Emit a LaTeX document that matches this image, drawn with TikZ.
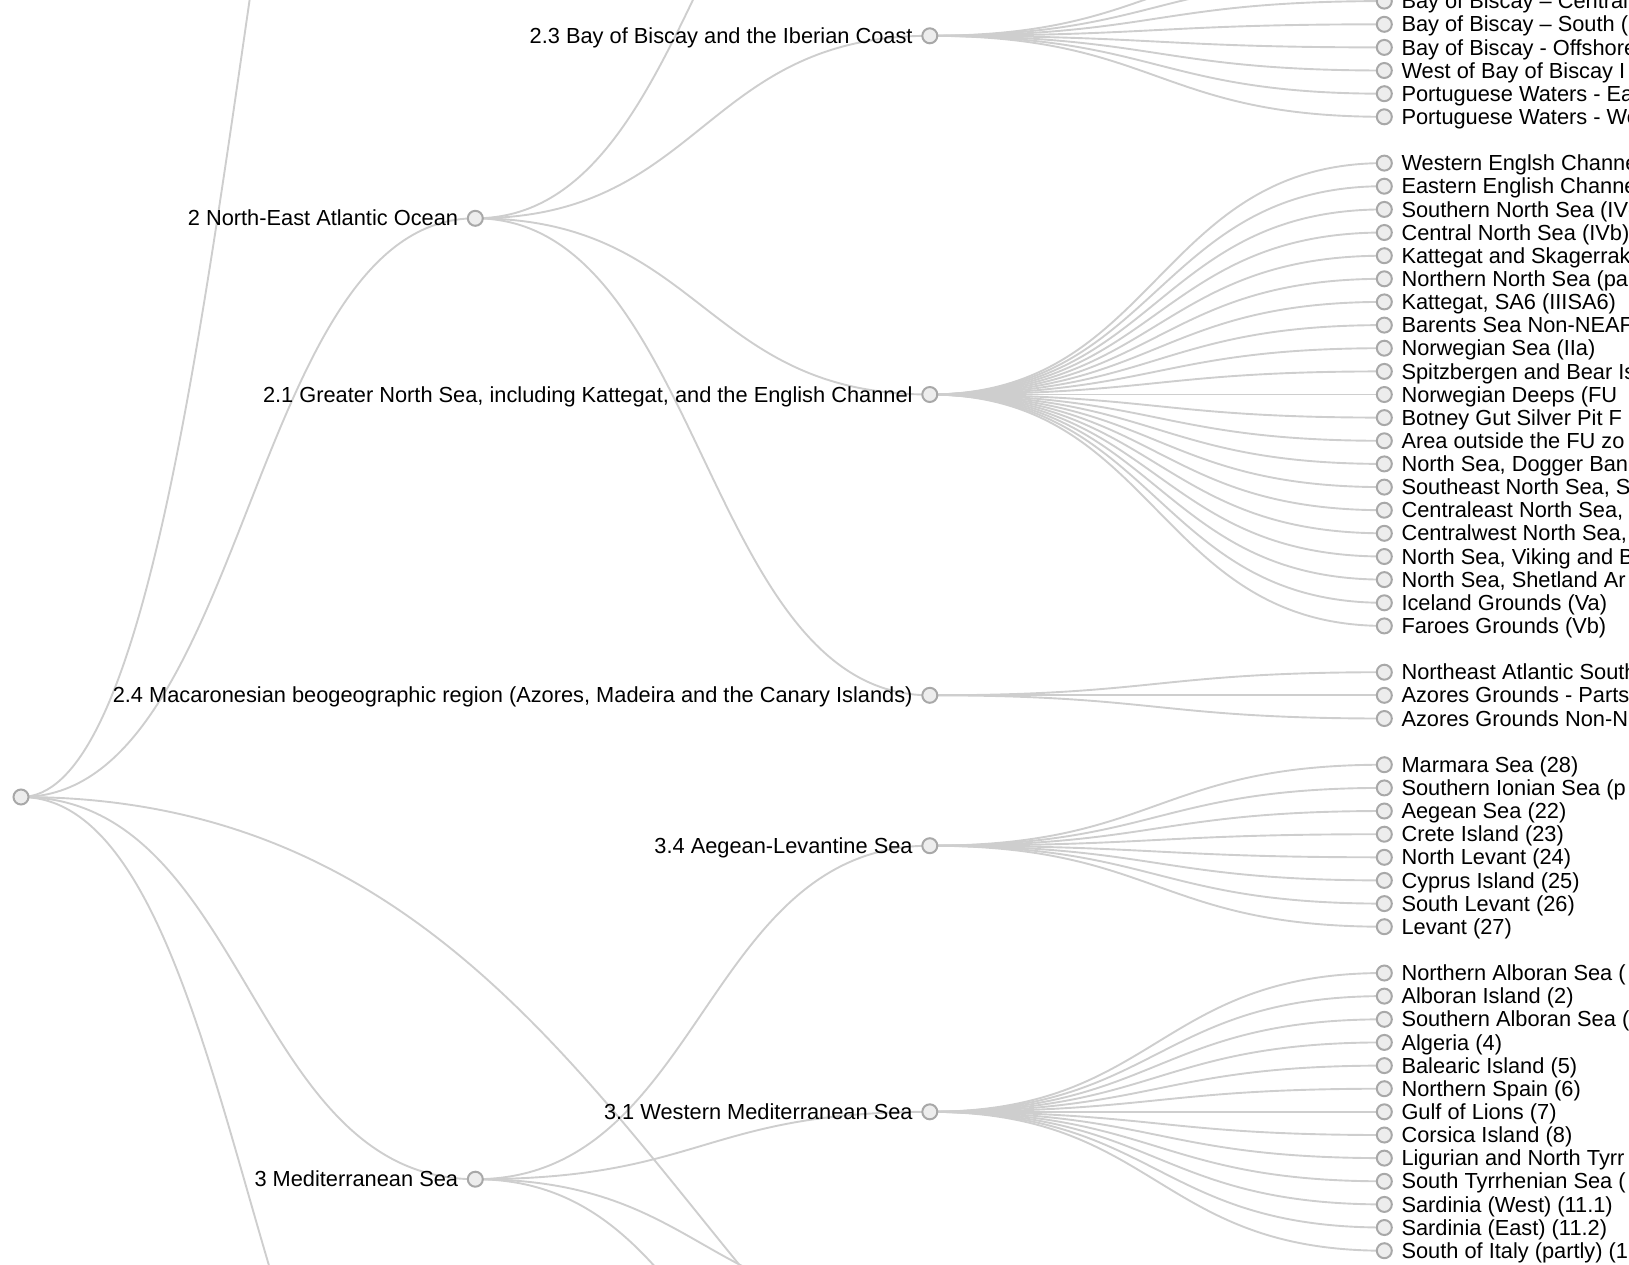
\documentclass[tikz,border=0pt]{standalone}
\usepackage{fontspec}
\setmainfont{Liberation Sans}
\usetikzlibrary{positioning,backgrounds}
\definecolor{linkgray}{RGB}{206,206,206}
\definecolor{dotline}{RGB}{168,168,168}
\definecolor{dotfill}{RGB}{237,237,237}
\begin{document}
\begin{tikzpicture}[x=1pt,y=-1pt,
  dot/.style={shape=circle,draw=dotline,fill=dotfill,line width=2pt,minimum size=15pt,inner sep=0pt,outer sep=0pt},
  lbl/.style={font=\fontsize{21.8}{24}\selectfont,inner sep=0pt,text height=17.4pt,text depth=2.2pt},
  link/.style={draw=linkgray,line width=1.9pt}]
\useasboundingbox (0,0) rectangle (1629,1264);
\clip (0,0) rectangle (1629,1264);

% halfway columns for the curves
\coordinate (m01) at (248.15,0);
\coordinate (m12) at (702.55,0);
\coordinate (m23) at (1157.05,0);
\coordinate (m03) at (702.65,0);

% root and first level
\node[dot](r) at (21,797) {};
\coordinate (n1) at (475.3,-777);
\node[dot](n2) at (475.3,218.3) {};
\node[lbl,left=9.5pt of n2](t2) {2 North-East Atlantic Ocean};
\node[dot](n3) at (475.3,1179.2) {};
\node[lbl,left=9.5pt of n3](t3) {3 Mediterranean Sea};
\coordinate (n4) at (475.3,1590);
\coordinate (nx) at (1384.3,1642);

% second level
\coordinate (n22) at (929.8,-258.7);
\node[dot](n23) at (929.8,35.8) {};
\node[lbl,left=9.5pt of n23](t23) {2.3 Bay of Biscay and the Iberian Coast};
\node[dot](n21) at (929.8,394.5) {};
\node[lbl,left=9.5pt of n21](t21) {2.1 Greater North Sea, including Kattegat, and the English Channel};
\node[dot](n24) at (929.8,695.3) {};
\node[lbl,left=9.5pt of n24](t24) {2.4 Macaronesian beogeographic region (Azores, Madeira and the Canary Islands)};
\node[dot](n34) at (929.8,845.7) {};
\node[lbl,left=9.5pt of n34](t34) {3.4 Aegean-Levantine Sea};
\node[dot](n31) at (929.8,1111.8) {};
\node[lbl,left=9.5pt of n31](t31) {3.1 Western Mediterranean Sea};
\coordinate (n32) at (929.8,1309);
\coordinate (n33) at (929.8,1470);

% leaves of 2.3
\coordinate (l23a) at (1384.3,-45.2);
\coordinate (l23b) at (1384.3,-22.0);
\node[dot](l23c) at (1384.3,1.1) {}; \node[lbl,right=9.5pt of l23c](t23c) {Bay of Biscay – Central};
\node[dot](l23d) at (1384.3,24.3) {}; \node[lbl,right=9.5pt of l23d](t23d) {Bay of Biscay – South (};
\node[dot](l23e) at (1384.3,47.4) {}; \node[lbl,right=9.5pt of l23e](t23e) {Bay of Biscay - Offshore};
\node[dot](l23f) at (1384.3,70.5) {}; \node[lbl,right=9.5pt of l23f](t23f) {West of Bay of Biscay I};
\node[dot](l23g) at (1384.3,93.7) {}; \node[lbl,right=9.5pt of l23g](t23g) {Portuguese Waters - Ea};
\node[dot](l23h) at (1384.3,116.8) {}; \node[lbl,right=9.5pt of l23h](t23h) {Portuguese Waters - We};

% leaves of 2.1
\node[dot](l21a) at (1384.3,163.1) {}; \node[lbl,right=9.5pt of l21a](t21a) {Western Englsh Channe};
\node[dot](l21b) at (1384.3,186.2) {}; \node[lbl,right=9.5pt of l21b](t21b) {Eastern English Channe};
\node[dot](l21c) at (1384.3,209.4) {}; \node[lbl,right=9.5pt of l21c](t21c) {Southern North Sea (IVc};
\node[dot](l21d) at (1384.3,232.5) {}; \node[lbl,right=9.5pt of l21d](t21d) {Central North Sea (IVb)};
\node[dot](l21e) at (1384.3,255.7) {}; \node[lbl,right=9.5pt of l21e](t21e) {Kattegat and Skagerrak};
\node[dot](l21f) at (1384.3,278.8) {}; \node[lbl,right=9.5pt of l21f](t21f) {Northern North Sea (par};
\node[dot](l21g) at (1384.3,301.9) {}; \node[lbl,right=9.5pt of l21g](t21g) {Kattegat, SA6 (IIISA6)};
\node[dot](l21h) at (1384.3,325.1) {}; \node[lbl,right=9.5pt of l21h](t21h) {Barents Sea Non-NEAF};
\node[dot](l21i) at (1384.3,348.2) {}; \node[lbl,right=9.5pt of l21i](t21i) {Norwegian Sea (IIa)};
\node[dot](l21j) at (1384.3,371.4) {}; \node[lbl,right=9.5pt of l21j](t21j) {Spitzbergen and Bear Is};
\node[dot](l21k) at (1384.3,394.5) {}; \node[lbl,right=9.5pt of l21k](t21k) {Norwegian Deeps (FU};
\node[dot](l21l) at (1384.3,417.6) {}; \node[lbl,right=9.5pt of l21l](t21l) {Botney Gut Silver Pit F};
\node[dot](l21m) at (1384.3,440.8) {}; \node[lbl,right=9.5pt of l21m](t21m) {Area outside the FU zo};
\node[dot](l21n) at (1384.3,463.9) {}; \node[lbl,right=9.5pt of l21n](t21n) {North Sea, Dogger Bank};
\node[dot](l21o) at (1384.3,487.1) {}; \node[lbl,right=9.5pt of l21o](t21o) {Southeast North Sea, S};
\node[dot](l21p) at (1384.3,510.2) {}; \node[lbl,right=9.5pt of l21p](t21p) {Centraleast North Sea,};
\node[dot](l21q) at (1384.3,533.3) {}; \node[lbl,right=9.5pt of l21q](t21q) {Centralwest North Sea,};
\node[dot](l21r) at (1384.3,556.5) {}; \node[lbl,right=9.5pt of l21r](t21r) {North Sea, Viking and B};
\node[dot](l21s) at (1384.3,579.6) {}; \node[lbl,right=9.5pt of l21s](t21s) {North Sea, Shetland Ar};
\node[dot](l21t) at (1384.3,602.8) {}; \node[lbl,right=9.5pt of l21t](t21t) {Iceland Grounds (Va)};
\node[dot](l21u) at (1384.3,625.9) {}; \node[lbl,right=9.5pt of l21u](t21u) {Faroes Grounds (Vb)};

% leaves of 2.4
\node[dot](l24a) at (1384.3,672.2) {}; \node[lbl,right=9.5pt of l24a](t24a) {Northeast Atlantic South};
\node[dot](l24b) at (1384.3,695.3) {}; \node[lbl,right=9.5pt of l24b](t24b) {Azores Grounds - Parts};
\node[dot](l24c) at (1384.3,718.5) {}; \node[lbl,right=9.5pt of l24c](t24c) {Azores Grounds Non-N};

% leaves of 3.4
\node[dot](l34a) at (1384.3,764.7) {}; \node[lbl,right=9.5pt of l34a](t34a) {Marmara Sea (28)};
\node[dot](l34b) at (1384.3,787.9) {}; \node[lbl,right=9.5pt of l34b](t34b) {Southern Ionian Sea (p};
\node[dot](l34c) at (1384.3,811.0) {}; \node[lbl,right=9.5pt of l34c](t34c) {Aegean Sea (22)};
\node[dot](l34d) at (1384.3,834.2) {}; \node[lbl,right=9.5pt of l34d](t34d) {Crete Island (23)};
\node[dot](l34e) at (1384.3,857.3) {}; \node[lbl,right=9.5pt of l34e](t34e) {North Levant (24)};
\node[dot](l34f) at (1384.3,880.4) {}; \node[lbl,right=9.5pt of l34f](t34f) {Cyprus Island (25)};
\node[dot](l34g) at (1384.3,903.6) {}; \node[lbl,right=9.5pt of l34g](t34g) {South Levant (26)};
\node[dot](l34h) at (1384.3,926.7) {}; \node[lbl,right=9.5pt of l34h](t34h) {Levant (27)};

% leaves of 3.1
\node[dot](l31a) at (1384.3,973.0) {}; \node[lbl,right=9.5pt of l31a](t31a) {Northern Alboran Sea (};
\node[dot](l31b) at (1384.3,996.1) {}; \node[lbl,right=9.5pt of l31b](t31b) {Alboran Island (2)};
\node[dot](l31c) at (1384.3,1019.3) {}; \node[lbl,right=9.5pt of l31c](t31c) {Southern Alboran Sea (};
\node[dot](l31d) at (1384.3,1042.4) {}; \node[lbl,right=9.5pt of l31d](t31d) {Algeria (4)};
\node[dot](l31e) at (1384.3,1065.6) {}; \node[lbl,right=9.5pt of l31e](t31e) {Balearic Island (5)};
\node[dot](l31f) at (1384.3,1088.7) {}; \node[lbl,right=9.5pt of l31f](t31f) {Northern Spain (6)};
\node[dot](l31g) at (1384.3,1111.8) {}; \node[lbl,right=9.5pt of l31g](t31g) {Gulf of Lions (7)};
\node[dot](l31h) at (1384.3,1135.0) {}; \node[lbl,right=9.5pt of l31h](t31h) {Corsica Island (8)};
\node[dot](l31i) at (1384.3,1158.1) {}; \node[lbl,right=9.5pt of l31i](t31i) {Ligurian and North Tyrr};
\node[dot](l31j) at (1384.3,1181.3) {}; \node[lbl,right=9.5pt of l31j](t31j) {South Tyrrhenian Sea (};
\node[dot](l31k) at (1384.3,1204.4) {}; \node[lbl,right=9.5pt of l31k](t31k) {Sardinia (West) (11.1)};
\node[dot](l31l) at (1384.3,1227.5) {}; \node[lbl,right=9.5pt of l31l](t31l) {Sardinia (East) (11.2)};
\node[dot](l31m) at (1384.3,1250.7) {}; \node[lbl,right=9.5pt of l31m](t31m) {South of Italy (partly) (1};

\begin{pgfonlayer}{background}
\draw[link] (r.center) .. controls (r.center -| m01) and (n1 -| m01) .. (n1);
\draw[link] (r.center) .. controls (r.center -| m01) and (n2.center -| m01) .. (n2.center);
\draw[link] (r.center) .. controls (r.center -| m01) and (n3.center -| m01) .. (n3.center);
\draw[link] (r.center) .. controls (r.center -| m01) and (n4 -| m01) .. (n4);
\draw[link] (r.center) .. controls (r.center -| m03) and (nx -| m03) .. (nx);
%
\draw[link] (n2.center) .. controls (n2.center -| m12) and (n22 -| m12) .. (n22);
\draw[link] (n2.center) .. controls (n2.center -| m12) and (n23.center -| m12) .. (n23.center);
\draw[link] (n2.center) .. controls (n2.center -| m12) and (n21.center -| m12) .. (n21.center);
\draw[link] (n2.center) .. controls (n2.center -| m12) and (n24.center -| m12) .. (n24.center);
\draw[link] (n3.center) .. controls (n3.center -| m12) and (n34.center -| m12) .. (n34.center);
\draw[link] (n3.center) .. controls (n3.center -| m12) and (n31.center -| m12) .. (n31.center);
\draw[link] (n3.center) .. controls (n3.center -| m12) and (n32 -| m12) .. (n32);
\draw[link] (n3.center) .. controls (n3.center -| m12) and (n33 -| m12) .. (n33);
%
\draw[link] (n23.center) .. controls (n23.center -| m23) and (l23a -| m23) .. (l23a);
\draw[link] (n23.center) .. controls (n23.center -| m23) and (l23b -| m23) .. (l23b);
\draw[link] (n23.center) .. controls (n23.center -| m23) and (l23c.center -| m23) .. (l23c.center);
\draw[link] (n23.center) .. controls (n23.center -| m23) and (l23d.center -| m23) .. (l23d.center);
\draw[link] (n23.center) .. controls (n23.center -| m23) and (l23e.center -| m23) .. (l23e.center);
\draw[link] (n23.center) .. controls (n23.center -| m23) and (l23f.center -| m23) .. (l23f.center);
\draw[link] (n23.center) .. controls (n23.center -| m23) and (l23g.center -| m23) .. (l23g.center);
\draw[link] (n23.center) .. controls (n23.center -| m23) and (l23h.center -| m23) .. (l23h.center);
%
\draw[link] (n21.center) .. controls (n21.center -| m23) and (l21a.center -| m23) .. (l21a.center);
\draw[link] (n21.center) .. controls (n21.center -| m23) and (l21b.center -| m23) .. (l21b.center);
\draw[link] (n21.center) .. controls (n21.center -| m23) and (l21c.center -| m23) .. (l21c.center);
\draw[link] (n21.center) .. controls (n21.center -| m23) and (l21d.center -| m23) .. (l21d.center);
\draw[link] (n21.center) .. controls (n21.center -| m23) and (l21e.center -| m23) .. (l21e.center);
\draw[link] (n21.center) .. controls (n21.center -| m23) and (l21f.center -| m23) .. (l21f.center);
\draw[link] (n21.center) .. controls (n21.center -| m23) and (l21g.center -| m23) .. (l21g.center);
\draw[link] (n21.center) .. controls (n21.center -| m23) and (l21h.center -| m23) .. (l21h.center);
\draw[link] (n21.center) .. controls (n21.center -| m23) and (l21i.center -| m23) .. (l21i.center);
\draw[link] (n21.center) .. controls (n21.center -| m23) and (l21j.center -| m23) .. (l21j.center);
\draw[link] (n21.center) .. controls (n21.center -| m23) and (l21k.center -| m23) .. (l21k.center);
\draw[link] (n21.center) .. controls (n21.center -| m23) and (l21l.center -| m23) .. (l21l.center);
\draw[link] (n21.center) .. controls (n21.center -| m23) and (l21m.center -| m23) .. (l21m.center);
\draw[link] (n21.center) .. controls (n21.center -| m23) and (l21n.center -| m23) .. (l21n.center);
\draw[link] (n21.center) .. controls (n21.center -| m23) and (l21o.center -| m23) .. (l21o.center);
\draw[link] (n21.center) .. controls (n21.center -| m23) and (l21p.center -| m23) .. (l21p.center);
\draw[link] (n21.center) .. controls (n21.center -| m23) and (l21q.center -| m23) .. (l21q.center);
\draw[link] (n21.center) .. controls (n21.center -| m23) and (l21r.center -| m23) .. (l21r.center);
\draw[link] (n21.center) .. controls (n21.center -| m23) and (l21s.center -| m23) .. (l21s.center);
\draw[link] (n21.center) .. controls (n21.center -| m23) and (l21t.center -| m23) .. (l21t.center);
\draw[link] (n21.center) .. controls (n21.center -| m23) and (l21u.center -| m23) .. (l21u.center);
%
\draw[link] (n24.center) .. controls (n24.center -| m23) and (l24a.center -| m23) .. (l24a.center);
\draw[link] (n24.center) .. controls (n24.center -| m23) and (l24b.center -| m23) .. (l24b.center);
\draw[link] (n24.center) .. controls (n24.center -| m23) and (l24c.center -| m23) .. (l24c.center);
%
\draw[link] (n34.center) .. controls (n34.center -| m23) and (l34a.center -| m23) .. (l34a.center);
\draw[link] (n34.center) .. controls (n34.center -| m23) and (l34b.center -| m23) .. (l34b.center);
\draw[link] (n34.center) .. controls (n34.center -| m23) and (l34c.center -| m23) .. (l34c.center);
\draw[link] (n34.center) .. controls (n34.center -| m23) and (l34d.center -| m23) .. (l34d.center);
\draw[link] (n34.center) .. controls (n34.center -| m23) and (l34e.center -| m23) .. (l34e.center);
\draw[link] (n34.center) .. controls (n34.center -| m23) and (l34f.center -| m23) .. (l34f.center);
\draw[link] (n34.center) .. controls (n34.center -| m23) and (l34g.center -| m23) .. (l34g.center);
\draw[link] (n34.center) .. controls (n34.center -| m23) and (l34h.center -| m23) .. (l34h.center);
%
\draw[link] (n31.center) .. controls (n31.center -| m23) and (l31a.center -| m23) .. (l31a.center);
\draw[link] (n31.center) .. controls (n31.center -| m23) and (l31b.center -| m23) .. (l31b.center);
\draw[link] (n31.center) .. controls (n31.center -| m23) and (l31c.center -| m23) .. (l31c.center);
\draw[link] (n31.center) .. controls (n31.center -| m23) and (l31d.center -| m23) .. (l31d.center);
\draw[link] (n31.center) .. controls (n31.center -| m23) and (l31e.center -| m23) .. (l31e.center);
\draw[link] (n31.center) .. controls (n31.center -| m23) and (l31f.center -| m23) .. (l31f.center);
\draw[link] (n31.center) .. controls (n31.center -| m23) and (l31g.center -| m23) .. (l31g.center);
\draw[link] (n31.center) .. controls (n31.center -| m23) and (l31h.center -| m23) .. (l31h.center);
\draw[link] (n31.center) .. controls (n31.center -| m23) and (l31i.center -| m23) .. (l31i.center);
\draw[link] (n31.center) .. controls (n31.center -| m23) and (l31j.center -| m23) .. (l31j.center);
\draw[link] (n31.center) .. controls (n31.center -| m23) and (l31k.center -| m23) .. (l31k.center);
\draw[link] (n31.center) .. controls (n31.center -| m23) and (l31l.center -| m23) .. (l31l.center);
\draw[link] (n31.center) .. controls (n31.center -| m23) and (l31m.center -| m23) .. (l31m.center);
\end{pgfonlayer}
\end{tikzpicture}
\end{document}
